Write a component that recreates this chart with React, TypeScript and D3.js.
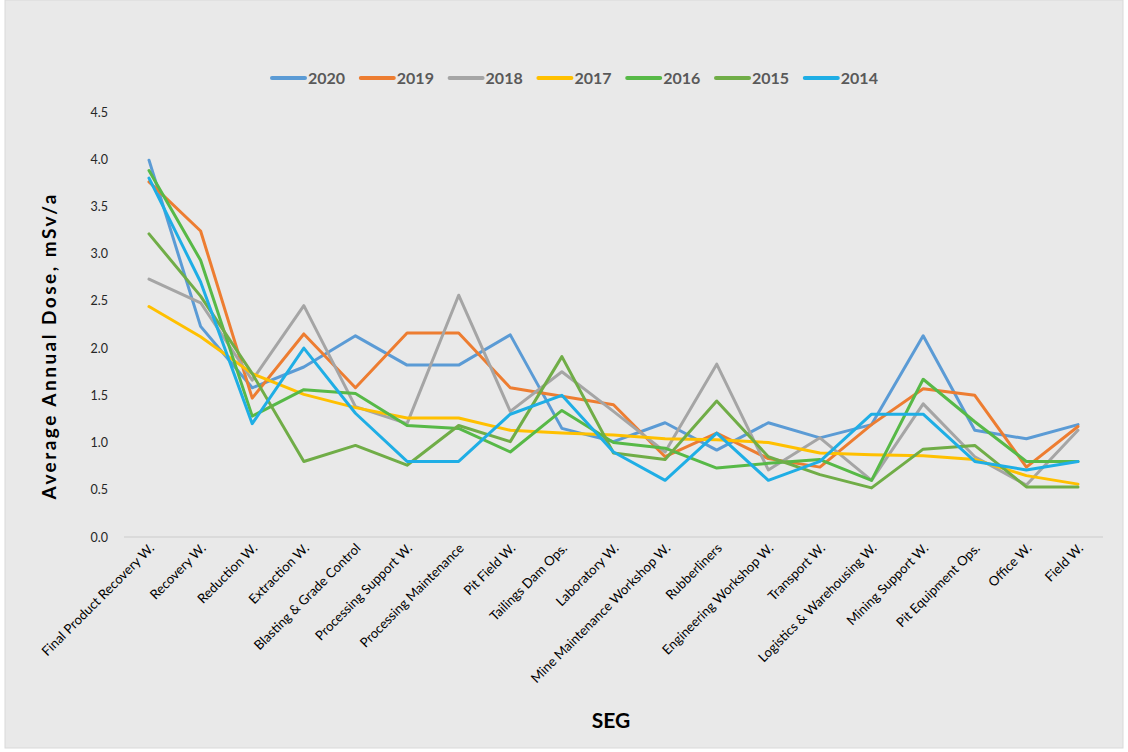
import React from "react";
import * as d3 from "d3";

const categories = [
  "Final Product Recovery W.",
  "Recovery W.",
  "Reduction W.",
  "Extraction W.",
  "Blasting & Grade Control",
  "Processing Support W.",
  "Processing Maintenance",
  "Pit Field W.",
  "Tailings Dam Ops.",
  "Laboratory  W.",
  "Mine Maintenance Workshop W.",
  "Rubberliners",
  "Engineering Workshop W.",
  "Transport W.",
  "Logistics & Warehousing W.",
  "Mining Support W.",
  "Pit Equipment Ops.",
  "Office W.",
  "Field W.",
];

const years = ["2020", "2019", "2018", "2017", "2016", "2015", "2014"];

const dose2020 = [3.99, 2.23, 1.58, 1.8, 2.13, 1.82, 1.82, 2.14, 1.15, 1.01, 1.21, 0.92, 1.21, 1.05, 1.19, 2.13, 1.13, 1.04, 1.19];
const dose2019 = [3.76, 3.24, 1.47, 2.15, 1.58, 2.16, 2.16, 1.58, 1.49, 1.4, 0.85, 1.1, 0.83, 0.74, 1.19, 1.57, 1.5, 0.74, 1.17];
const dose2018 = [2.73, 2.48, 1.66, 2.45, 1.38, 1.2, 2.56, 1.33, 1.75, 1.33, 0.9, 1.83, 0.71, 1.05, 0.6, 1.41, 0.85, 0.55, 1.13];
const dose2017 = [2.44, 2.12, 1.73, 1.51, 1.37, 1.26, 1.26, 1.13, 1.1, 1.08, 1.04, 1.03, 1.0, 0.89, 0.87, 0.86, 0.82, 0.65, 0.56];
const dose2016 = [3.88, 2.93, 1.28, 1.56, 1.52, 1.18, 1.15, 0.9, 1.34, 1.0, 0.94, 0.73, 0.78, 0.82, 0.6, 1.67, 1.22, 0.8, 0.8];
const dose2015 = [3.21, 2.55, 1.73, 0.8, 0.97, 0.76, 1.18, 1.01, 1.91, 0.89, 0.82, 1.44, 0.85, 0.66, 0.52, 0.93, 0.97, 0.53, 0.53];
const dose2014 = [3.8, 2.7, 1.2, 2.0, 1.31, 0.8, 0.8, 1.3, 1.5, 0.9, 0.6, 1.1, 0.6, 0.8, 1.3, 1.3, 0.8, 0.71, 0.8];

const colors = ["#5B9BD5", "#ED7D31", "#A5A5A5", "#FFC000", "#57B947", "#70AD47", "#1FAEE5"];
const yTicks = [0, 0.5, 1, 1.5, 2, 2.5, 3, 3.5, 4, 4.5];

const series = [dose2020, dose2019, dose2018, dose2017, dose2016, dose2015, dose2014];

const W = 1128;
const H = 752;
const font = "Lato, 'Open Sans', sans-serif";

export default function App() {
  const x = d3.scalePoint<string>().domain(categories).range([149, 1078]);
  const y = d3.scaleLinear().domain([0, 4.5]).range([537, 112]);

  const line = d3
    .line<number>()
    .x((_, i) => x(categories[i])!)
    .y((d) => y(d));

  return (
    <svg
      width={W}
      height={H}
      style={{ position: "absolute", left: 0, top: 0, background: "#fff" }}
      fontFamily={font}
    >
      <rect x={5} y={0} width={1118} height={748} fill="#E9E9E9" stroke="#D9D9D9" />

      {/* legend */}
      {years.map((yr, i) => {
        const lx = 272 + i * 88.8;
        return (
          <g key={yr}>
            <line x1={lx} x2={lx + 33} y1={78} y2={78} stroke={colors[i]} strokeWidth={4} strokeLinecap="round" />
            <text x={lx + 36} y={84} fontSize={16} fontWeight="bold" fill="#595959">
              {yr}
            </text>
          </g>
        );
      })}

      {/* y axis labels */}
      {yTicks.map((t) => (
        <text key={t} x={108} y={y(t) + 4.5} textAnchor="end" fontSize={12.5} fill="#262626">
          {t.toFixed(1)}
        </text>
      ))}

      {/* baseline */}
      <line x1={124} x2={1103} y1={y(0)} y2={y(0)} stroke="#D4D4D4" strokeWidth={1.5} />

      {/* series */}
      {series.map((s, i) => (
        <path
          key={years[i]}
          d={line(s)!}
          fill="none"
          stroke={colors[i]}
          strokeWidth={3}
          strokeLinejoin="round"
          strokeLinecap="round"
        />
      ))}

      {/* x labels */}
      {categories.map((c) => (
        <text
          key={c}
          transform={`translate(${x(c)! + 6},${549}) rotate(-45)`}
          textAnchor="end"
          fontSize={13.2}
          fill="#000"
        >
          {c}
        </text>
      ))}

      {/* axis titles */}
      <text
        transform={`translate(56,${347}) rotate(-90)`}
        textAnchor="middle"
        fontSize={19}
        fontWeight="bold"
        fill="#000"
        textLength={305}
        lengthAdjust="spacing"
      >
        Average Annual Dose, mSv/a
      </text>
      <text x={611} y={728} textAnchor="middle" fontSize={21} fontWeight="bold" fill="#000">
        SEG
      </text>
    </svg>
  );
}
